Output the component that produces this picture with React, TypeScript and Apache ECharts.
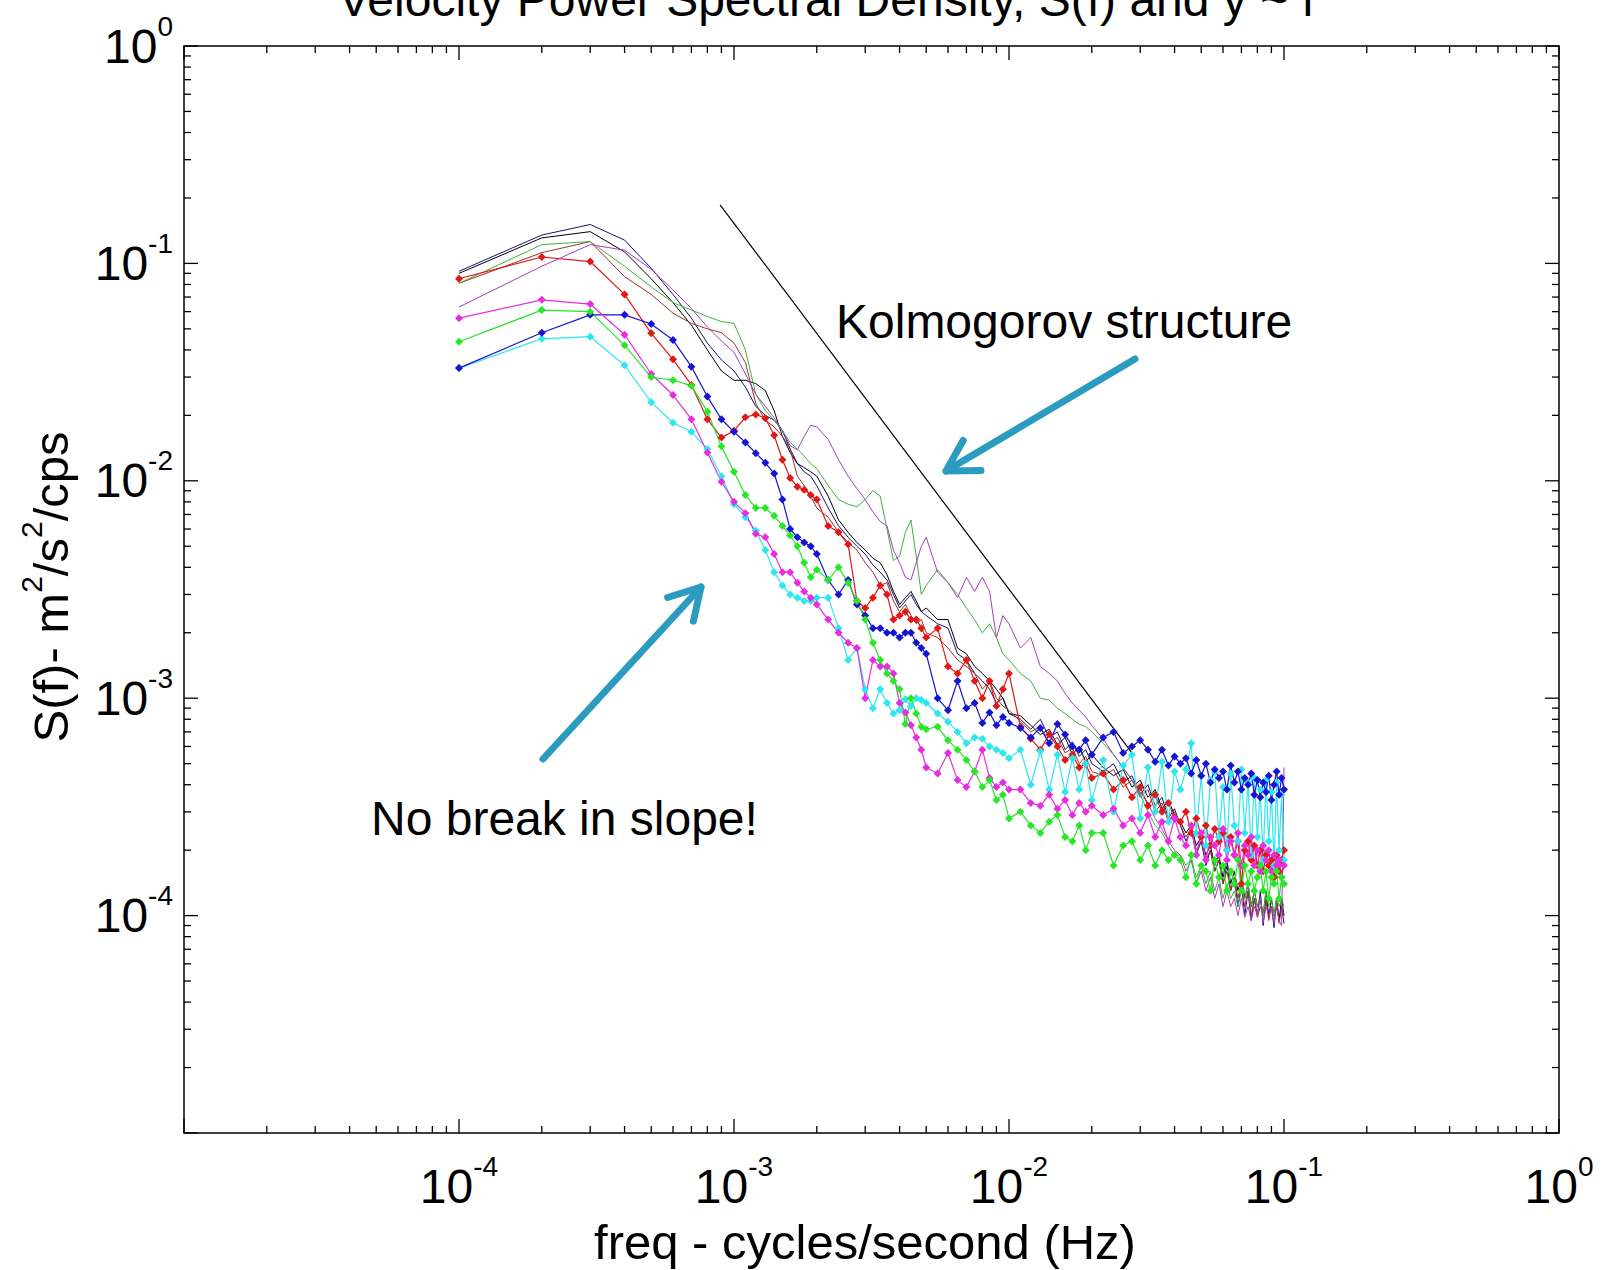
import React, { useEffect, useRef } from 'react';
import * as echarts from 'echarts';

// Frequency grid (Hz)
const freqHz = [
  0.0001, 0.0002, 0.0003, 0.0004, 0.0005, 0.0006, 0.0007, 0.0008, 0.0009, 0.001,
  0.0011, 0.0012, 0.0013, 0.0014, 0.0015, 0.0016, 0.0017, 0.0018, 0.0019, 0.002,
  0.0022, 0.0024, 0.0026, 0.0028, 0.003, 0.0032, 0.0034, 0.0036, 0.0038, 0.004,
  0.0042, 0.0044, 0.0046, 0.0048, 0.005,
  0.0055, 0.006, 0.0065, 0.007, 0.0075, 0.008, 0.0085, 0.009, 0.0095, 0.01,
  0.011, 0.012, 0.013, 0.014, 0.015, 0.016, 0.017, 0.018, 0.019, 0.02,
  0.022, 0.024, 0.026, 0.028, 0.03, 0.032, 0.034, 0.036, 0.038, 0.04,
  0.042, 0.044, 0.046, 0.048, 0.05, 0.052, 0.054, 0.056, 0.058, 0.06,
  0.062, 0.064, 0.066, 0.068, 0.07, 0.072, 0.074, 0.076, 0.078, 0.08,
  0.082, 0.084, 0.086, 0.088, 0.09, 0.092, 0.094, 0.096, 0.098, 0.1,
];

// S(f) values, m^2/s^2/cps
const navyLine = [
  0.092, 0.135, 0.151, 0.128, 0.095, 0.072, 0.056, 0.043, 0.036, 0.032,
  0.027, 0.022, 0.02, 0.019, 0.017, 0.014, 0.012, 0.011, 0.0105, 0.0095,
  0.0075, 0.0062, 0.0055, 0.005, 0.0046, 0.0041, 0.0038, 0.0035, 0.003, 0.0026,
  0.0028, 0.003, 0.0027, 0.0025, 0.0024,
  0.0022, 0.0021, 0.0016, 0.0015, 0.0013, 0.0012, 0.0011, 0.00095, 0.001, 0.00085,
  0.0008, 0.00072, 0.0008, 0.00066, 0.0007, 0.00058, 0.00063, 0.00054, 0.00058, 0.0005,
  0.00046, 0.0005, 0.00041, 0.00044, 0.00036, 0.0004, 0.00032, 0.00035, 0.00028, 0.00031,
  0.00026, 0.00022, 0.00025, 0.00019, 0.00022, 0.00017, 0.0002, 0.00016, 0.00018, 0.00014,
  0.00017, 0.00013, 0.00015, 0.00011, 0.00014, 0.0001, 0.00013, 0.000095, 0.00012, 0.0001,
  0.00013, 0.00009, 0.00012, 0.0001, 0.00011, 0.000088, 0.00012, 0.000095, 0.00011, 0.000092,
];
const blackLine = [
  0.09, 0.131, 0.14, 0.113, 0.085, 0.066, 0.052, 0.04, 0.032, 0.029,
  0.029, 0.028, 0.026, 0.021, 0.016, 0.0135, 0.012, 0.0115, 0.011, 0.0105,
  0.0085, 0.0066, 0.0058, 0.0052, 0.0048, 0.0044, 0.0042, 0.0037, 0.0031, 0.0027,
  0.0029, 0.0031, 0.0028, 0.0025, 0.0026,
  0.0023, 0.0023, 0.0017, 0.0016, 0.0014, 0.0013, 0.0012, 0.0011, 0.001, 0.00085,
  0.00083, 0.00075, 0.00068, 0.00072, 0.00061, 0.00066, 0.00055, 0.0006, 0.00051, 0.00055,
  0.00048, 0.00044, 0.00047, 0.00039, 0.00042, 0.00035, 0.00038, 0.00031, 0.00034, 0.00029,
  0.00027, 0.00024, 0.00026, 0.00021, 0.00023, 0.00019, 0.00021, 0.00017, 0.00019, 0.00015,
  0.00018, 0.00014, 0.00016, 0.00013, 0.00015, 0.00012, 0.00014, 0.00011, 0.00013, 0.00011,
  0.00012, 0.0001, 0.00013, 0.000098, 0.00012, 0.0001, 0.00011, 0.000095, 0.00012, 0.0001,
];
const brownLine = [
  0.081, 0.112, 0.126, 0.087, 0.072, 0.059, 0.053, 0.05, 0.048, 0.043,
  0.035, 0.0227, 0.019, 0.0177, 0.016, 0.014, 0.0105, 0.0095, 0.0085, 0.0075,
  0.0068, 0.0058, 0.0052, 0.0048, 0.0042, 0.0038, 0.0033, 0.0034, 0.0028, 0.0025,
  0.0027, 0.0024, 0.0022, 0.0023, 0.002,
  0.0019, 0.0017, 0.0015, 0.0014, 0.0013, 0.0011, 0.0012, 0.001, 0.00092, 0.00088,
  0.00078, 0.0007, 0.00074, 0.00062, 0.00066, 0.00056, 0.00059, 0.0005, 0.00054, 0.00046,
  0.00044, 0.00047, 0.00039, 0.00042, 0.00035, 0.00038, 0.0003, 0.00033, 0.00027, 0.0003,
  0.00026, 0.00023, 0.00025, 0.0002, 0.00022, 0.00018, 0.0002, 0.00016, 0.00018, 0.00014,
  0.00016, 0.00013, 0.00015, 0.00012, 0.00014, 0.00011, 0.00013, 0.0001, 0.00012, 0.000098,
  0.00011, 0.0001, 0.00012, 0.000095, 0.00011, 0.0001, 0.00012, 0.000092, 0.00011, 0.0001,
];
const greenLine = [
  0.081, 0.122, 0.126, 0.097, 0.078, 0.066, 0.061, 0.057, 0.054, 0.053,
  0.04, 0.025, 0.021, 0.019, 0.017, 0.015, 0.014, 0.013, 0.012, 0.0114,
  0.0095, 0.0082, 0.0078, 0.0076, 0.0082, 0.009, 0.0085, 0.006, 0.0043, 0.0045,
  0.0058, 0.0066, 0.0045, 0.003, 0.0033,
  0.0039, 0.0034, 0.003, 0.0026, 0.0023, 0.002, 0.0022, 0.0019, 0.0016, 0.0015,
  0.0013, 0.0012, 0.001, 0.00098, 0.0009, 0.00085, 0.0008, 0.00076, 0.00074, 0.0007,
  0.00062, 0.00055, 0.00048, 0.00042, 0.00036, 0.0003, 0.00026, 0.00024, 0.00021, 0.00019,
  0.00019, 0.00017, 0.00018, 0.00015, 0.00017, 0.00014, 0.00016, 0.00013, 0.00015, 0.00012,
  0.00014, 0.00012, 0.00013, 0.00011, 0.00013, 0.00012, 0.00014, 0.00011, 0.00013, 0.00011,
  0.00012, 0.0001, 0.00013, 0.00011, 0.00012, 0.0001, 0.00012, 0.00011, 0.00012, 0.00011,
];
const purpleLine = [
  0.063, 0.097, 0.122, 0.115, 0.094, 0.0755, 0.062, 0.051, 0.044, 0.039,
  0.031, 0.025, 0.022, 0.0195, 0.017, 0.0145, 0.0139, 0.016, 0.018, 0.0177,
  0.0155, 0.0125, 0.0105, 0.0092, 0.0082, 0.0072, 0.0065, 0.0062, 0.0048, 0.0042,
  0.0036, 0.0035, 0.0042, 0.005, 0.0055,
  0.0038, 0.0034, 0.0029, 0.0036, 0.0031, 0.0036, 0.0031, 0.0019, 0.0024, 0.0022,
  0.0017, 0.0019, 0.0014, 0.0013, 0.0012, 0.00105, 0.00095, 0.00088, 0.00082, 0.00075,
  0.00065, 0.00055, 0.00048, 0.00042, 0.00037, 0.00033, 0.00028, 0.00025, 0.00022, 0.0002,
  0.00019, 0.00016, 0.00018, 0.00014, 0.00016, 0.00013, 0.00015, 0.00012, 0.00014, 0.00011,
  0.00013, 0.00011, 0.00012, 0.0001, 0.00012, 0.000098, 0.00011, 0.000095, 0.00011, 0.0001,
  0.00012, 0.000093, 0.00011, 0.0001, 0.00011, 0.000092, 0.00011, 0.000095, 0.00009, 0.00048,
];
const redMarked = [
  0.085, 0.107, 0.102, 0.072, 0.0477, 0.0362, 0.0276, 0.0192, 0.0158, 0.017,
  0.0196, 0.0202, 0.0194, 0.0162, 0.0125, 0.0103, 0.0094, 0.0091, 0.0086, 0.0082,
  0.0062, 0.0058, 0.0051, 0.0028, 0.0026, 0.0029, 0.0033, 0.003, 0.0023, 0.0024,
  0.0025, 0.0023, 0.0023, 0.0021, 0.0019,
  0.0021, 0.0014, 0.0013, 0.0015, 0.0012, 0.001, 0.0012, 0.00092, 0.0011, 0.0013,
  0.00074, 0.00065, 0.00058, 0.00068, 0.0006, 0.00052, 0.00055, 0.00048, 0.0005, 0.00043,
  0.00045, 0.00038, 0.00042, 0.00035, 0.00039, 0.00032, 0.00036, 0.0003, 0.00033, 0.00028,
  0.00027, 0.0003, 0.00024, 0.00028, 0.00023, 0.00026, 0.00021, 0.00025, 0.00022, 0.00024,
  0.0002, 0.00023, 0.00019, 0.00022, 0.00014, 0.0002, 0.00022, 0.00018, 0.00021, 0.00017,
  0.0002, 0.00016, 0.00019, 0.00017, 0.00018, 0.00015, 0.00019, 0.00016, 0.00018, 0.0002,
];
const cyanMarked = [
  0.033, 0.045, 0.046, 0.034, 0.023, 0.0185, 0.0168, 0.014, 0.0105, 0.0078,
  0.0068, 0.0059, 0.0048, 0.0038, 0.0033, 0.003, 0.0029, 0.0028, 0.0028, 0.0029,
  0.0029, 0.0021, 0.0015, 0.0017, 0.0011, 0.0009, 0.0011, 0.00095, 0.00085, 0.00088,
  0.00099, 0.00092, 0.001, 0.00098, 0.00095,
  0.00085, 0.00078, 0.0007, 0.00062, 0.00066, 0.00065, 0.0006, 0.00058, 0.00056, 0.00053,
  0.00058, 0.0004, 0.00057, 0.00038, 0.00055, 0.00037, 0.00053, 0.00038, 0.0005, 0.00034,
  0.00052, 0.0003, 0.00049, 0.00055, 0.00028, 0.00048, 0.0003, 0.00051, 0.00027, 0.00046,
  0.00038, 0.00047, 0.00062, 0.00024, 0.00044, 0.00021, 0.00042, 0.00046, 0.00023, 0.00039,
  0.0002, 0.00045, 0.00026, 0.00022, 0.00047, 0.00024, 0.00041, 0.00019, 0.00043, 0.00023,
  0.00038, 0.00018, 0.00042, 0.00022, 0.00037, 0.00017, 0.00041, 0.0002, 0.00036, 0.00018,
];
const blueMarked = [
  0.033, 0.048, 0.058, 0.058, 0.0526, 0.0444, 0.0335, 0.0244, 0.0192, 0.0168,
  0.015, 0.0134, 0.0121, 0.0108, 0.0082, 0.006, 0.0055, 0.0052, 0.005, 0.0046,
  0.0035, 0.003, 0.0035, 0.0027, 0.0024, 0.0021, 0.0021, 0.002, 0.002, 0.0019,
  0.002, 0.002, 0.0018, 0.0017, 0.0016,
  0.001, 0.00088, 0.0012, 0.0009, 0.00095, 0.00077, 0.00086, 0.00075, 0.00082, 0.00077,
  0.00073, 0.00066, 0.00073, 0.00062, 0.00076, 0.00068, 0.0006, 0.00058, 0.00064, 0.00055,
  0.00066, 0.0007, 0.00056, 0.0006, 0.00064, 0.00058, 0.00051, 0.00058, 0.00049, 0.00054,
  0.0005, 0.00053, 0.00045, 0.00052, 0.00044, 0.0005, 0.00041, 0.00047, 0.00043, 0.00046,
  0.00038, 0.00049, 0.00041, 0.00046, 0.00038, 0.00043, 0.0004, 0.00045, 0.00036, 0.00042,
  0.00035, 0.00041, 0.00037, 0.00044, 0.00034, 0.0004, 0.00046, 0.00036, 0.00043, 0.00038,
];
const magentaMarked = [
  0.056, 0.068, 0.065, 0.047, 0.031, 0.0248, 0.0192, 0.0135, 0.0099, 0.008,
  0.0071, 0.0057, 0.0055, 0.0046, 0.0038, 0.0038, 0.0034, 0.0031, 0.0029, 0.0027,
  0.0023, 0.002, 0.0018, 0.0017, 0.001, 0.0015, 0.0014, 0.0014, 0.0013, 0.00095,
  0.00086, 0.00075, 0.00066, 0.00058, 0.00048,
  0.00045, 0.00056, 0.00042, 0.00039, 0.00046, 0.00058, 0.00043, 0.00039, 0.00041, 0.00038,
  0.00038, 0.00033, 0.00032, 0.00036, 0.00031, 0.00034, 0.00029, 0.00033, 0.0003, 0.00032,
  0.00029, 0.00031, 0.00026, 0.00028, 0.00024, 0.00029, 0.00023, 0.00027, 0.00022, 0.00028,
  0.00023, 0.00021, 0.00026, 0.00019, 0.00024, 0.00018, 0.00023, 0.00021, 0.00019, 0.00025,
  0.00018, 0.00022, 0.00019, 0.00024, 0.00017, 0.00021, 0.00019, 0.00023, 0.00017, 0.0002,
  0.00016, 0.00021, 0.00018, 0.0002, 0.00016, 0.00019, 0.00017, 0.00018, 0.00015, 0.00017,
];
const greenMarked = [
  0.0436, 0.061, 0.06, 0.042, 0.03, 0.029, 0.0274, 0.0208, 0.0144, 0.011,
  0.0086, 0.0075, 0.0075, 0.0069, 0.0062, 0.0056, 0.005, 0.0042, 0.0036, 0.0039,
  0.0035, 0.004, 0.0034, 0.0028, 0.0023, 0.0018, 0.0015, 0.0013, 0.0012, 0.0011,
  0.00076, 0.001, 0.00085, 0.00074, 0.00072,
  0.00074, 0.00064, 0.00058, 0.00052, 0.00046, 0.00039, 0.00042, 0.00034, 0.00036, 0.00028,
  0.0003, 0.00026, 0.00024, 0.00027, 0.00029, 0.00023, 0.00022, 0.00026, 0.0002, 0.00024,
  0.00024, 0.00017, 0.00021, 0.00022, 0.00018, 0.00021, 0.00017, 0.0002, 0.00018, 0.00019,
  0.00018, 0.00015, 0.00019, 0.00014, 0.00017, 0.00016, 0.00013, 0.00018, 0.00015, 0.00017,
  0.00013, 0.00016, 0.00014, 0.00018, 0.00013, 0.00017, 0.00014, 0.00016, 0.00013, 0.00015,
  0.00017, 0.00013, 0.00016, 0.00012, 0.00015, 0.00014, 0.00016, 0.00012, 0.00015, 0.00014,
];

// Kolmogorov -5/3 reference line end points [f, S]
const kolmogorovLine = [
  [0.00089, 0.186],
  [0.0283, 0.00055],
];

// Axis ticks
const decadeTicks = [1e-5, 1e-4, 1e-3, 1e-2, 1e-1, 1];
const minorMantissas = [2, 3, 4, 5, 6, 7, 8, 9];
const hiddenExponent = -5;

const FONT = "'Liberation Sans', Arial, Helvetica, sans-serif";
const ARROW = '#2b9cbf';

const seriesDefs = [
  { name: 'navy', data: navyLine, color: '#12127a', marker: false },
  { name: 'black', data: blackLine, color: '#000000', marker: false },
  { name: 'brown', data: brownLine, color: '#a3302a', marker: false },
  { name: 'green', data: greenLine, color: '#3cb43c', marker: false },
  { name: 'purple', data: purpleLine, color: '#a83cc0', marker: false },
  { name: 'red', data: redMarked, color: '#e01818', marker: true },
  { name: 'cyan', data: cyanMarked, color: '#2ee6f0', marker: true },
  { name: 'blue', data: blueMarked, color: '#1414d2', marker: true },
  { name: 'magenta', data: magentaMarked, color: '#e62ee0', marker: true },
  { name: 'lime', data: greenMarked, color: '#28e628', marker: true },
];

function arrowElements(tail: number[], tip: number[]) {
  const dx = tail[0] - tip[0];
  const dy = tail[1] - tip[1];
  const L = Math.hypot(dx, dy);
  const ux = dx / L;
  const uy = dy / L;
  const len = 35;
  const wing = (a: number) => [
    tip[0] + len * (ux * Math.cos(a) - uy * Math.sin(a)),
    tip[1] + len * (ux * Math.sin(a) + uy * Math.cos(a)),
  ];
  const style = { stroke: ARROW, lineWidth: 7, lineCap: 'round', lineJoin: 'round', fill: 'none' };
  return [
    { type: 'polyline', shape: { points: [tail, tip] }, style },
    { type: 'polyline', shape: { points: [wing(Math.PI / 6), tip, wing(-Math.PI / 6)] }, style },
  ];
}

const labelRich = {
  b: { fontSize: 48, fontFamily: FONT, color: '#000', padding: [10, 0, 10, 0], verticalAlign: 'bottom' },
  s: { fontSize: 28, fontFamily: FONT, color: '#000', verticalAlign: 'top' },
};

function powLabel(v: number) {
  const e = Math.round(Math.log10(v));
  if (e === hiddenExponent) return '';
  return '{b|10}{s|' + e + '}';
}

export default function App() {
  const ref = useRef<HTMLDivElement>(null);
  useEffect(() => {
    document.body.style.margin = '0';
    const chart = echarts.init(ref.current as HTMLDivElement, null, { renderer: 'svg' });

    const minorTicks: number[] = [];
    decadeTicks.slice(0, -1).forEach((d) => minorMantissas.forEach((m) => minorTicks.push(+(m * d).toPrecision(3))));
    const xTickData = [...decadeTicks.map((v) => [v, 1e-5, 1]), ...minorTicks.map((v) => [v, 1e-5, 0])];
    const yTickData = [...decadeTicks.map((v) => [1e-5, v, 1]), ...minorTicks.map((v) => [1e-5, v, 0])];
    const tickStyle = { stroke: '#000', lineWidth: 1.3 };

    const option: any = {
      animation: false,
      backgroundColor: '#fff',
      grid: {
        left: 184, top: 46, width: 1375, height: 1087,
        show: true, borderColor: '#000', borderWidth: 1.5, backgroundColor: '#fff',
      },
      xAxis: {
        type: 'log', logBase: 10, min: 1e-5, max: 1, interval: 1,
        axisLine: { show: false }, axisTick: { show: false }, splitLine: { show: false },
        axisLabel: { formatter: powLabel, rich: labelRich, margin: 19, showMinLabel: true, showMaxLabel: true },
      },
      yAxis: {
        type: 'log', logBase: 10, min: 1e-5, max: 1, interval: 1,
        axisLine: { show: false }, axisTick: { show: false }, splitLine: { show: false },
        axisLabel: { formatter: powLabel, rich: labelRich, margin: 11, showMinLabel: true, showMaxLabel: true },
      },
      series: [
        ...seriesDefs.map((d) => ({
          type: 'line', name: d.name,
          data: freqHz.map((f, i) => [f, d.data[i]]),
          symbol: d.marker ? 'diamond' : 'none', symbolSize: 8, showSymbol: d.marker,
          lineStyle: { color: d.color, width: d.marker ? 1.2 : 1 }, itemStyle: { color: d.color },
          silent: true,
        })),
        {
          type: 'line', name: 'kolmogorov', data: kolmogorovLine, symbol: 'none',
          lineStyle: { color: '#000', width: 1.2 }, silent: true,
        },
        {
          type: 'custom', name: 'xticks', data: xTickData, encode: { x: 0, y: 1 }, silent: true, z: 5,
          renderItem: (params: any, api: any) => {
            const v = api.value(0);
            const L = api.value(2) ? 14 : 7;
            const b = api.coord([v, 1e-5]);
            const t = api.coord([v, 1]);
            return {
              type: 'group', children: [
                { type: 'line', shape: { x1: b[0], y1: b[1], x2: b[0], y2: b[1] - L }, style: tickStyle },
                { type: 'line', shape: { x1: t[0], y1: t[1], x2: t[0], y2: t[1] + L }, style: tickStyle },
              ],
            };
          },
        },
        {
          type: 'custom', name: 'yticks', data: yTickData, encode: { x: 0, y: 1 }, silent: true, z: 5,
          renderItem: (params: any, api: any) => {
            const v = api.value(1);
            const L = api.value(2) ? 14 : 7;
            const l = api.coord([1e-5, v]);
            const r = api.coord([1, v]);
            return {
              type: 'group', children: [
                { type: 'line', shape: { x1: l[0], y1: l[1], x2: l[0] + L, y2: l[1] }, style: tickStyle },
                { type: 'line', shape: { x1: r[0], y1: r[1], x2: r[0] - L, y2: r[1] }, style: tickStyle },
              ],
            };
          },
        },
      ],
      graphic: [
        {
          type: 'text', x: 338, y: -1, silent: true,
          style: { text: 'Velocity Power Spectral Density, S(f) and y ~ f', fontSize: 48, fontFamily: FONT, fill: '#000', textAlign: 'left', textVerticalAlign: 'middle' },
        },
        {
          type: 'text', x: 836, y: 321, silent: true, z: 10,
          style: { text: 'Kolmogorov structure', fontSize: 48, fontFamily: FONT, fill: '#000', textAlign: 'left', textVerticalAlign: 'middle' },
        },
        {
          type: 'text', x: 371, y: 818, silent: true, z: 10,
          style: { text: 'No break in slope!', fontSize: 48, fontFamily: FONT, fill: '#000', textAlign: 'left', textVerticalAlign: 'middle' },
        },
        {
          type: 'text', x: 865, y: 1242, silent: true,
          style: { text: 'freq - cycles/second (Hz)', fontSize: 49, fontFamily: FONT, fill: '#000', textAlign: 'center', textVerticalAlign: 'middle' },
        },
        {
          type: 'text', x: 51, y: 587, rotation: Math.PI / 2, silent: true,
          style: {
            text: '{n|S(f)- m}{s|2}{n|/s}{s|2}{n|/cps}',
            rich: {
              n: { fontSize: 49, fontFamily: FONT, fill: '#000', color: '#000', padding: [10, 0, 10, 0], verticalAlign: 'bottom' },
              s: { fontSize: 30, fontFamily: FONT, fill: '#000', color: '#000', verticalAlign: 'top' },
            },
            textAlign: 'center', textVerticalAlign: 'middle',
          },
        },
        ...arrowElements([1135, 359], [946, 471]).map((e) => ({ ...e, z: 20, silent: true })),
        ...arrowElements([543, 759], [701, 587]).map((e) => ({ ...e, z: 20, silent: true })),
      ],
    };
    chart.setOption(option);
    return () => chart.dispose();
  }, []);
  return <div ref={ref} style={{ position: 'fixed', left: 0, top: 0, width: 1608, height: 1270, background: '#fff' }} />;
}
